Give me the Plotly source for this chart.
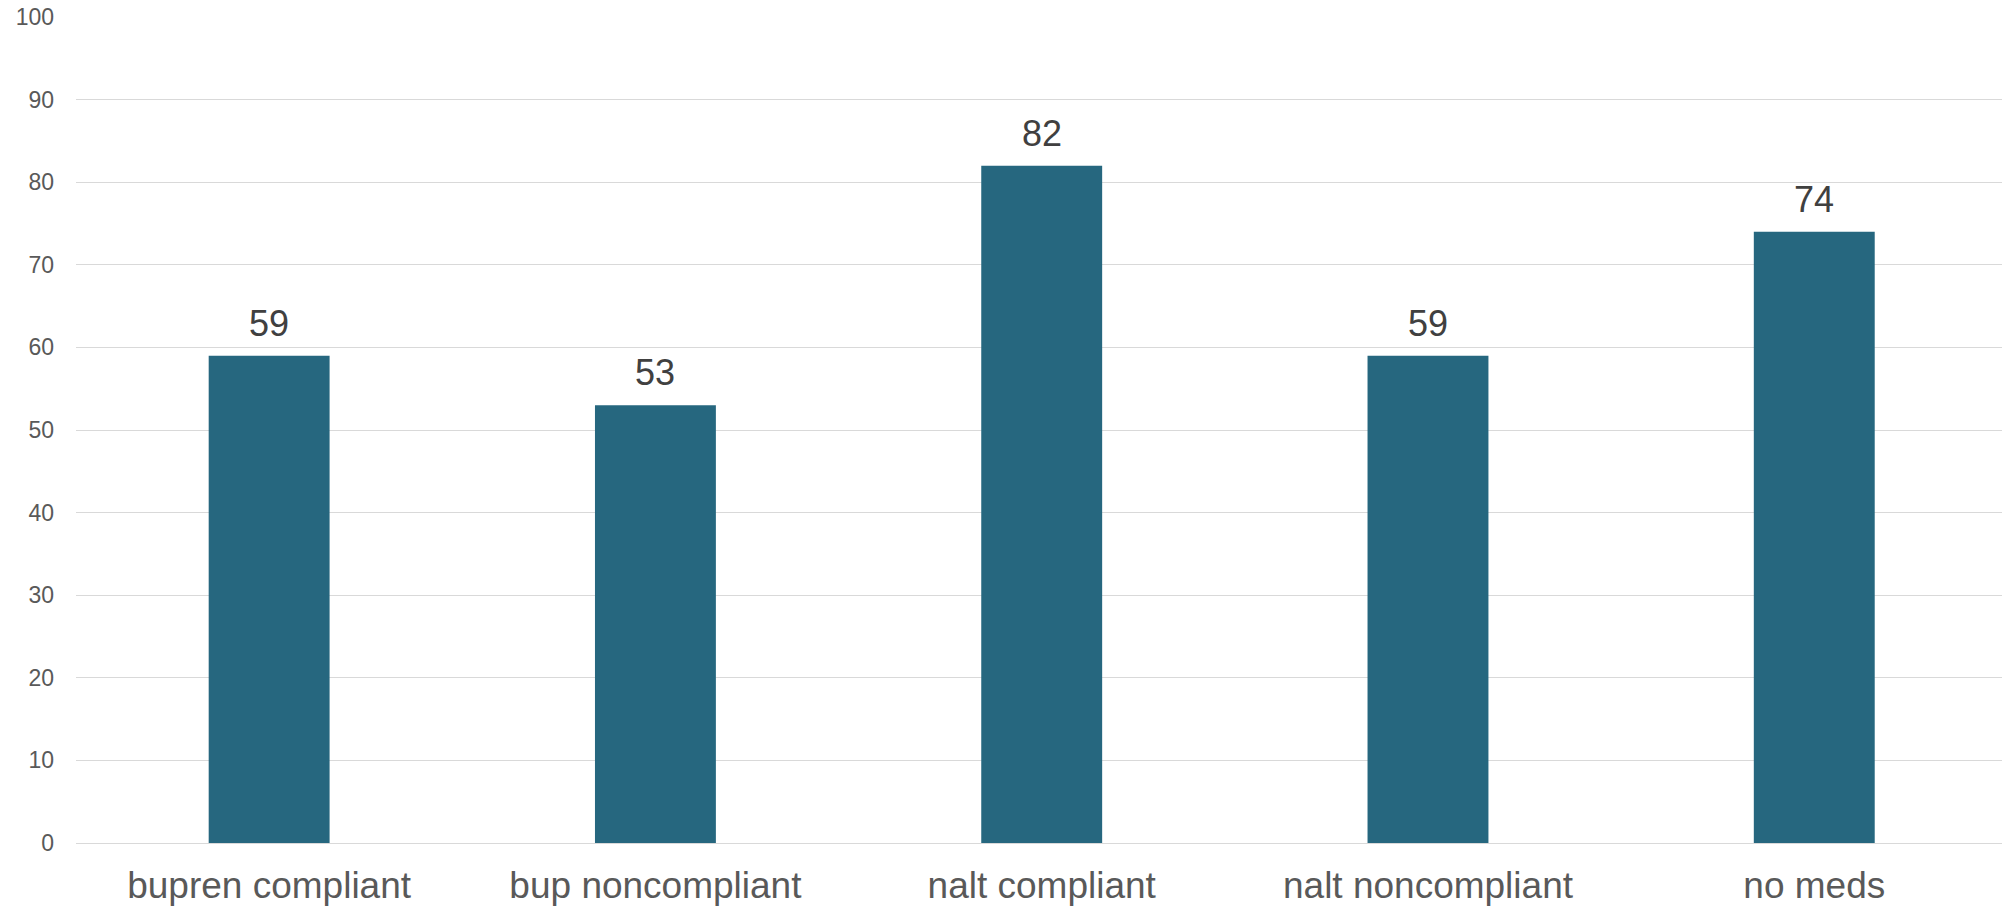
import plotly.graph_objects as go

categories = ["bupren compliant", "bup noncompliant", "nalt compliant", "nalt noncompliant", "no meds"]
values = [59, 53, 82, 59, 74]
y_ticks = [0, 10, 20, 30, 40, 50, 60, 70, 80, 90, 100]

FONT = "Liberation Sans, Arial, sans-serif"
BAR = "#26677f"
GRID = "#d9d9d9"

fig = go.Figure(go.Bar(x=categories, y=values, marker=dict(color=BAR, line=dict(width=0)),
                       hoverinfo="skip"))

for c, v in zip(categories, values):
    fig.add_annotation(x=c, y=v, text=str(v), showarrow=False, yanchor="bottom",
                       yshift=10, font=dict(family=FONT, size=36, color="#404040"))

fig.update_layout(
    width=2002, height=906,
    margin=dict(l=76, r=0, t=17, b=63),
    paper_bgcolor="white", plot_bgcolor="white",
    bargap=0.687,
    showlegend=False,
    font=dict(family=FONT),
)
fig.update_xaxes(range=[-0.5, 4.486], showgrid=False, showline=False, zeroline=False, ticks="",
                 tickfont=dict(family=FONT, size=37, color="#595959"),
                 ticklabelstandoff=17)
fig.update_yaxes(range=[0, 100], tickvals=y_ticks, showgrid=True, gridcolor=GRID, gridwidth=1.3,
                 zeroline=True, zerolinecolor=GRID, zerolinewidth=1.3, showline=False, ticks="",
                 tickfont=dict(family=FONT, size=23, color="#595959"),
                 ticklabelstandoff=21)

fig.write_html("out.html")
